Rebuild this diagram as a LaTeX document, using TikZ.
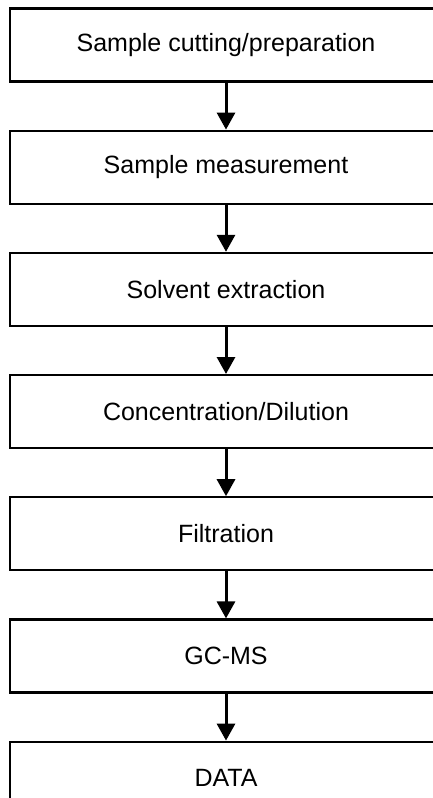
\documentclass[tikz,border=0pt]{standalone}
\usepackage{fontspec}
\setmainfont{Liberation Sans}
\usetikzlibrary{arrows.meta, positioning}

\tikzset{
  stepbox/.style={draw, line width=2.2pt, minimum width=432pt, minimum height=73pt, inner sep=0pt, font=\fontsize{25}{29}\selectfont},
  flow/.style={-{Triangle[width=18pt,length=17pt]}, line width=3pt}
}

\begin{document}
\begin{tikzpicture}
  \useasboundingbox (0pt,0pt) rectangle (433pt,-798pt);
  \clip (0pt,0pt) rectangle (433pt,-798pt);
  % process steps
  \node[stepbox] (cut) at (226pt,-45pt) {Sample cutting/preparation};
  \node[stepbox, below=47pt of cut] (meas) {Sample measurement};
  \node[stepbox, below=47pt of meas] (extr) {Solvent extraction};
  \node[stepbox, below=47pt of extr] (conc) {Concentration/Dilution};
  \node[stepbox, below=47pt of conc] (filt) {Filtration};
  \node[stepbox, below=47pt of filt] (gcms) {GC-MS};
  \node[stepbox, below=47pt of gcms] (data) {DATA};
  % arrows
  \draw[flow] (cut) -- (meas);
  \draw[flow] (meas) -- (extr);
  \draw[flow] (extr) -- (conc);
  \draw[flow] (conc) -- (filt);
  \draw[flow] (filt) -- (gcms);
  \draw[flow] (gcms) -- (data);
\end{tikzpicture}
\end{document}
